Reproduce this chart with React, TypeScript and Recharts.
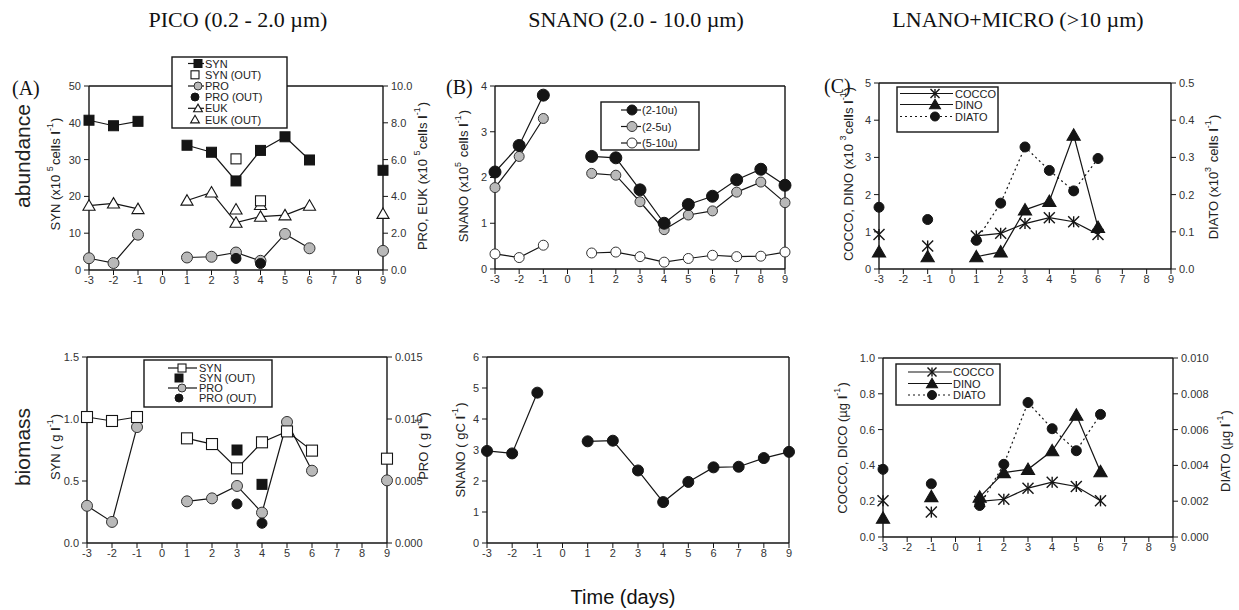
import React from 'react';
import { LineChart, Line, XAxis, YAxis, ReferenceLine } from 'recharts';

const SANS = "'Liberation Sans', Arial, sans-serif";
const SERIF = "'Liberation Serif', 'Times New Roman', serif";
const INK = '#151515';
const GRAY = '#b9b9b9';

const days = [-3, -2, -1, 0, 1, 2, 3, 4, 5, 6, 7, 8, 9];

// (A) abundance, pico
const synAbund = [40.7, 39.2, 40.4, null, 33.9, 32.0, 24.2, 32.5, 36.2, 29.9, null, null, 27.1];
const synOutAbund = [null, null, null, null, null, null, 30.2, 18.8, null, null, null, null, null];
const proAbund = [0.64, 0.38, 1.92, null, 0.68, 0.72, 0.95, 0.5, 1.96, 1.18, null, null, 1.04];
const proOutAbund = [null, null, null, null, null, null, 0.63, 0.35, null, null, null, null, null];
const eukAbund = [3.5, 3.62, 3.32, null, 3.78, 4.22, 2.58, 2.9, 2.98, 3.5, null, null, 3.06];
const eukOutAbund = [null, null, null, null, null, null, 3.3, 3.54, null, null, null, null, null];

// (B) abundance, snano
const snano210 = [2.12, 2.7, 3.8, null, 2.46, 2.43, 1.73, 1.0, 1.41, 1.59, 1.95, 2.18, 1.83];
const snano25 = [1.78, 2.46, 3.29, null, 2.09, 2.05, 1.47, 0.86, 1.18, 1.27, 1.68, 1.9, 1.45];
const snano510 = [0.33, 0.25, 0.52, null, 0.35, 0.37, 0.27, 0.15, 0.23, 0.3, 0.27, 0.28, 0.37];

// (C) abundance, lnano + micro
const coccoAbund = [0.93, null, 0.62, null, 0.89, 0.96, 1.22, 1.38, 1.27, 0.93, null, null, null];
const dinoAbund = [0.46, null, 0.33, null, 0.33, 0.46, 1.59, 1.82, 3.6, 1.12, null, null, null];
const diatoAbund = [0.166, null, 0.133, null, 0.077, 0.177, 0.328, 0.265, 0.21, 0.297, null, null, null];

// biomass, pico
const synBio = [1.016, 0.984, 1.016, null, 0.844, 0.798, 0.602, 0.812, 0.9, 0.745, null, null, 0.68];
const synOutBio = [null, null, null, null, null, null, 0.75, 0.473, null, null, null, null, null];
const proBio = [0.003, 0.0017, 0.00935, null, 0.00336, 0.0036, 0.0046, 0.00245, 0.00976, 0.00583, null, null, 0.00505];
const proOutBio = [null, null, null, null, null, null, 0.00315, 0.00159, null, null, null, null, null];

// biomass, snano
const snanoBio = [2.97, 2.89, 4.85, null, 3.28, 3.3, 2.34, 1.32, 1.97, 2.44, 2.46, 2.74, 2.94];

// biomass, lnano + micro
const coccoBio = [0.202, null, 0.139, null, 0.199, 0.211, 0.273, 0.306, 0.282, 0.202, null, null, null];
const dinoBio = [0.106, null, 0.226, null, 0.223, 0.36, 0.378, 0.482, 0.681, 0.365, null, null, null];
const diatoBio = [0.00378, null, 0.00297, null, 0.00176, 0.00406, 0.00751, 0.00605, 0.00482, 0.00685, null, null, null];

const rows = (series: Record<string, (number | null)[]>) =>
  days.map((day, i) => {
    const r: Record<string, number | null> = { day };
    for (const k of Object.keys(series)) r[k] = series[k][i];
    return r;
  });

const dataA = rows({ syn: synAbund, synOut: synOutAbund, pro: proAbund, proOut: proOutAbund, euk: eukAbund, eukOut: eukOutAbund });
const dataB = rows({ s210: snano210, s25: snano25, s510: snano510 });
const dataC = rows({ cocco: coccoAbund, dino: dinoAbund, diato: diatoAbund });
const dataD = rows({ syn: synBio, synOut: synOutBio, pro: proBio, proOut: proOutBio });
const dataE = rows({ snano: snanoBio });
const dataF = rows({ cocco: coccoBio, dino: dinoBio, diato: diatoBio });

type Kind = 'sqFill' | 'sqOpen' | 'cGray' | 'cBlack' | 'cWhite' | 'tOpen' | 'tFill' | 'star';

function Marker({ kind, x, y, s }: { kind: Kind; x: number; y: number; s: number }) {
  const h = s / 2;
  switch (kind) {
    case 'sqFill':
      return <rect x={x - h} y={y - h} width={s} height={s} fill={INK} stroke={INK} />;
    case 'sqOpen':
      return <rect x={x - h} y={y - h} width={s} height={s} fill="#fff" stroke={INK} strokeWidth={1.1} />;
    case 'cGray':
      return <circle cx={x} cy={y} r={h} fill={GRAY} stroke="#333" strokeWidth={1} />;
    case 'cBlack':
      return <circle cx={x} cy={y} r={h} fill={INK} stroke={INK} />;
    case 'cWhite':
      return <circle cx={x} cy={y} r={h} fill="#fff" stroke="#333" strokeWidth={1} />;
    case 'tOpen':
    case 'tFill': {
      const pts = `${x},${y - h * 1.05} ${x + h * 1.1},${y + h * 0.85} ${x - h * 1.1},${y + h * 0.85}`;
      return <polygon points={pts} fill={kind === 'tFill' ? INK : '#fff'} stroke={INK} strokeWidth={1.1} />;
    }
    case 'star':
      return (
        <g stroke={INK} strokeWidth={1.4}>
          <line x1={x - h} y1={y - h} x2={x + h} y2={y + h} />
          <line x1={x + h} y1={y - h} x2={x - h} y2={y + h} />
          <line x1={x} y1={y - h} x2={x} y2={y + h} />
        </g>
      );
  }
  return null;
}

const dot = (kind: Kind, s: number) => (p: any) => {
  const { cx, cy, index, value } = p;
  if (value == null || cx == null || cy == null || Number.isNaN(cy)) return <g key={`e${index}`} />;
  return <Marker key={`m${index}`} kind={kind} x={cx} y={cy} s={s} />;
};

const tickStyle = { fill: '#333', fontSize: 11, fontFamily: SANS };
const axisLine = { stroke: INK, strokeWidth: 1.4 };

interface Box { l: number; r: number; t: number; b: number }

function Panel({ box, data, left, right, children }: {
  box: Box;
  data: any[];
  left: { domain: [number, number]; ticks: number[]; fmt: (v: number) => string };
  right?: { domain: [number, number]; ticks: number[]; fmt: (v: number) => string };
  children: React.ReactNode;
}) {
  const AX = 45, XH = 25, TOP = 5;
  const w = box.r - box.l + AX * 2;
  const h = box.b - box.t + TOP + XH;
  return (
    <div style={{ position: 'absolute', left: box.l - AX, top: box.t - TOP }}>
      <LineChart width={w} height={h} data={data} margin={{ top: TOP, right: 0, bottom: 0, left: 0 }}>
        <XAxis dataKey="day" type="number" domain={[-3, 9]} ticks={days} interval={0} height={XH}
          tick={tickStyle} tickSize={5} tickMargin={1} axisLine={axisLine} tickLine={{ stroke: INK }} />
        <YAxis yAxisId="left" domain={left.domain} ticks={left.ticks} tickFormatter={left.fmt} width={AX}
          tick={tickStyle} tickSize={5} tickMargin={3} axisLine={axisLine} tickLine={{ stroke: INK }} interval={0} />
        {right ? (
          <YAxis yAxisId="right" orientation="right" domain={right.domain} ticks={right.ticks} tickFormatter={right.fmt}
            width={AX} tick={tickStyle} tickSize={5} tickMargin={3} axisLine={axisLine} tickLine={{ stroke: INK }} interval={0} />
        ) : (
          <YAxis yAxisId="right" orientation="right" domain={left.domain} width={AX} tick={false} tickLine={false} axisLine={axisLine} />
        )}
        <ReferenceLine yAxisId="left" y={left.domain[1]} stroke={INK} strokeWidth={1.4} />
        {children}
      </LineChart>
    </div>
  );
}

const f0 = (v: number) => String(v);
const f1 = (v: number) => v.toFixed(1);
const f3 = (v: number) => v.toFixed(3);

const lineProps = { type: 'linear' as const, stroke: INK, strokeWidth: 1.2, isAnimationActive: false, activeDot: false, connectNulls: false };
const ptsProps = { ...lineProps, stroke: 'none' };

function VLabel({ x, y, children, size = 13 }: { x: number; y: number; children: React.ReactNode; size?: number }) {
  return (
    <text transform={`translate(${x},${y}) rotate(-90)`} textAnchor="middle" dominantBaseline="central"
      fontSize={size} fontFamily={SANS} fill="#222">{children}</text>
  );
}

const Sup = ({ t }: { t: string }) => (
  <>
    <tspan dy={-5} fontSize={9}>{t}</tspan>
    <tspan dy={5}>{'\u200a'}</tspan>
  </>
);
const L = () => <tspan fontWeight="bold">l</tspan>;

interface LRow { label: string; kind: Kind; s: number; line?: boolean; dash?: string }

function LegendBox({ x, y, w, h, rowY, lx1, lx2, mx, tx, items }: {
  x: number; y: number; w: number; h: number; rowY: number[]; lx1: number; lx2: number; mx: number; tx: number; items: LRow[];
}) {
  return (
    <g>
      <rect x={x} y={y} width={w} height={h} fill="#fff" stroke={INK} strokeWidth={1.4} />
      {items.map((it, i) => (
        <g key={it.label}>
          {it.line && <line x1={lx1} x2={lx2} y1={rowY[i]} y2={rowY[i]} stroke={INK} strokeWidth={1.2} strokeDasharray={it.dash} />}
          <Marker kind={it.kind} x={it.line ? mx : mx - 3} y={rowY[i]} s={it.s} />
          <text x={tx} y={rowY[i]} dominantBaseline="central" fontSize={11} fontFamily={SANS} fill="#222">{it.label}</text>
        </g>
      ))}
    </g>
  );
}

export default function App() {
  return (
    <div style={{ position: 'fixed', left: 0, top: 0, width: 1239, height: 610, background: '#fff', overflow: 'hidden' }}>
      <Panel box={{ l: 89, r: 383, t: 86, b: 270 }} data={dataA}
        left={{ domain: [0, 50], ticks: [0, 10, 20, 30, 40, 50], fmt: f0 }}
        right={{ domain: [0, 10], ticks: [0, 2, 4, 6, 8, 10], fmt: f1 }}>
        <Line yAxisId="right" dataKey="euk" {...lineProps} dot={dot('tOpen', 11)} />
        <Line yAxisId="right" dataKey="eukOut" {...ptsProps} dot={dot('tOpen', 11)} />
        <Line yAxisId="right" dataKey="pro" {...lineProps} dot={dot('cGray', 11)} />
        <Line yAxisId="right" dataKey="proOut" {...ptsProps} dot={dot('cBlack', 10)} />
        <Line yAxisId="left" dataKey="syn" {...lineProps} dot={dot('sqFill', 10)} />
        <Line yAxisId="left" dataKey="synOut" {...ptsProps} dot={dot('sqOpen', 10)} />
      </Panel>

      <Panel box={{ l: 495, r: 785, t: 86, b: 269 }} data={dataB}
        left={{ domain: [0, 4], ticks: [0, 1, 2, 3, 4], fmt: f0 }}>
        <Line yAxisId="left" dataKey="s510" {...lineProps} dot={dot('cWhite', 10)} />
        <Line yAxisId="left" dataKey="s25" {...lineProps} dot={dot('cGray', 10)} />
        <Line yAxisId="left" dataKey="s210" {...lineProps} dot={dot('cBlack', 12)} />
      </Panel>

      <Panel box={{ l: 879, r: 1171, t: 83, b: 269 }} data={dataC}
        left={{ domain: [0, 5], ticks: [0, 1, 2, 3, 4, 5], fmt: f0 }}
        right={{ domain: [0, 0.5], ticks: [0, 0.1, 0.2, 0.3, 0.4, 0.5], fmt: f1 }}>
        <Line yAxisId="right" dataKey="diato" {...lineProps} strokeDasharray="2 3" dot={dot('cBlack', 10)} />
        <Line yAxisId="left" dataKey="dino" {...lineProps} dot={dot('tFill', 12)} />
        <Line yAxisId="left" dataKey="cocco" {...lineProps} dot={dot('star', 11)} />
      </Panel>

      <Panel box={{ l: 87, r: 387, t: 357, b: 543 }} data={dataD}
        left={{ domain: [0, 1.5], ticks: [0, 0.5, 1, 1.5], fmt: f1 }}
        right={{ domain: [0, 0.015], ticks: [0, 0.005, 0.01, 0.015], fmt: f3 }}>
        <Line yAxisId="right" dataKey="pro" {...lineProps} dot={dot('cGray', 11)} />
        <Line yAxisId="right" dataKey="proOut" {...ptsProps} dot={dot('cBlack', 10)} />
        <Line yAxisId="left" dataKey="syn" {...lineProps} dot={dot('sqOpen', 11)} />
        <Line yAxisId="left" dataKey="synOut" {...ptsProps} dot={dot('sqFill', 10)} />
      </Panel>

      <Panel box={{ l: 487, r: 789, t: 357, b: 543 }} data={dataE}
        left={{ domain: [0, 6], ticks: [0, 1, 2, 3, 4, 5, 6], fmt: f0 }}>
        <Line yAxisId="left" dataKey="snano" {...lineProps} dot={dot('cBlack', 11)} />
      </Panel>

      <Panel box={{ l: 883, r: 1173, t: 358, b: 537 }} data={dataF}
        left={{ domain: [0, 1], ticks: [0, 0.2, 0.4, 0.6, 0.8, 1], fmt: f1 }}
        right={{ domain: [0, 0.01], ticks: [0, 0.002, 0.004, 0.006, 0.008, 0.01], fmt: f3 }}>
        <Line yAxisId="right" dataKey="diato" {...lineProps} strokeDasharray="2 3" dot={dot('cBlack', 10)} />
        <Line yAxisId="left" dataKey="dino" {...lineProps} dot={dot('tFill', 12)} />
        <Line yAxisId="left" dataKey="cocco" {...lineProps} dot={dot('star', 11)} />
      </Panel>

      <svg width={1239} height={610} style={{ position: 'absolute', left: 0, top: 0, pointerEvents: 'none' }}>
        <g fontFamily={SERIF} fill="#111" fontSize={22} textAnchor="middle">
          <text x={238} y={27}>PICO (0.2  - 2.0 µm)</text>
          <text x={636} y={27}>SNANO (2.0 - 10.0 µm)</text>
          <text x={1018} y={27}>LNANO+MICRO (&gt;10 µm)</text>
        </g>
        <g fontFamily={SERIF} fill="#111" fontSize={20}>
          <text x={12} y={95}>(A)</text>
          <text x={446} y={94}>(B)</text>
          <text x={824} y={93}>(C)</text>
        </g>

        <VLabel x={22} y={156} size={21}>abundance</VLabel>
        <VLabel x={22} y={447} size={21}>biomass</VLabel>
        <text x={623} y={604} textAnchor="middle" fontFamily={SANS} fontSize={20} fill="#111">Time (days)</text>

        <VLabel x={55} y={174}>SYN (x10 <Sup t="5" />cel<L />s <L /><Sup t="-1" />)</VLabel>
        <VLabel x={422} y={176}>PRO, EUK (x10 <Sup t="5" />cel<L />s <L /><Sup t="-1" />)</VLabel>
        <VLabel x={463} y={176}>SNANO (x10<Sup t="5" /> cel<L />s <L /><Sup t="-1" />)</VLabel>
        <VLabel x={848} y={174}>COCCO, DINO (x10 <Sup t="3" />cel<L />s <L /><Sup t="-1" />)</VLabel>
        <VLabel x={1213} y={177}>DIATO (x10<Sup t="3" /> cel<L />s <L /><Sup t="-1" />)</VLabel>

        <VLabel x={55} y={447}>SYN (  g <L /><Sup t="-1" />)</VLabel>
        <VLabel x={423} y={446}>PRO (  g <L /><Sup t="-1" />)</VLabel>
        <VLabel x={460} y={450}>SNANO (  gC <L /><Sup t="-1" />)</VLabel>
        <VLabel x={842} y={448}>COCCO, DICO (µg <L /><Sup t="-1" />)</VLabel>
        <VLabel x={1225} y={451}>DIATO (µg <L /><Sup t="-1" />)</VLabel>

        <LegendBox x={172} y={57} w={115} h={71} rowY={[63.5, 74.8, 86, 97, 108.3, 119.5]}
          lx1={188} lx2={204} mx={198} tx={205}
          items={[
            { label: 'SYN', kind: 'sqFill', s: 8, line: true },
            { label: 'SYN (OUT)', kind: 'sqOpen', s: 8 },
            { label: 'PRO', kind: 'cGray', s: 8, line: true },
            { label: 'PRO (OUT)', kind: 'cBlack', s: 8 },
            { label: 'EUK', kind: 'tOpen', s: 8, line: true },
            { label: 'EUK (OUT)', kind: 'tOpen', s: 8 },
          ]} />
        <LegendBox x={601} y={102} w={98} h={48} rowY={[110, 126.5, 143]}
          lx1={621} lx2={641} mx={632} tx={642}
          items={[
            { label: '(2-10u)', kind: 'cBlack', s: 10, line: true },
            { label: '(2-5u)', kind: 'cGray', s: 10, line: true },
            { label: '(5-10u)', kind: 'cWhite', s: 10, line: true },
          ]} />
        <LegendBox x={897} y={87} w={101} h={45} rowY={[93.5, 104.5, 116.5]}
          lx1={900} lx2={953} mx={935} tx={955}
          items={[
            { label: 'COCCO', kind: 'star', s: 9, line: true },
            { label: 'DINO', kind: 'tFill', s: 10, line: true },
            { label: 'DIATO', kind: 'cBlack', s: 9, line: true, dash: '2 3' },
          ]} />
        <LegendBox x={144} y={360} w={128} h={47} rowY={[368, 378, 388, 398]}
          lx1={168} lx2={197} mx={182} tx={199}
          items={[
            { label: 'SYN', kind: 'sqOpen', s: 8, line: true },
            { label: 'SYN (OUT)', kind: 'sqFill', s: 8 },
            { label: 'PRO', kind: 'cGray', s: 8, line: true },
            { label: 'PRO (OUT)', kind: 'cBlack', s: 8 },
          ]} />
        <LegendBox x={896} y={364} w={104} h={41} rowY={[372, 383.5, 395]}
          lx1={908} lx2={952} mx={932} tx={953}
          items={[
            { label: 'COCCO', kind: 'star', s: 9, line: true },
            { label: 'DINO', kind: 'tFill', s: 10, line: true },
            { label: 'DIATO', kind: 'cBlack', s: 9, line: true, dash: '2 3' },
          ]} />
      </svg>
    </div>
  );
}
